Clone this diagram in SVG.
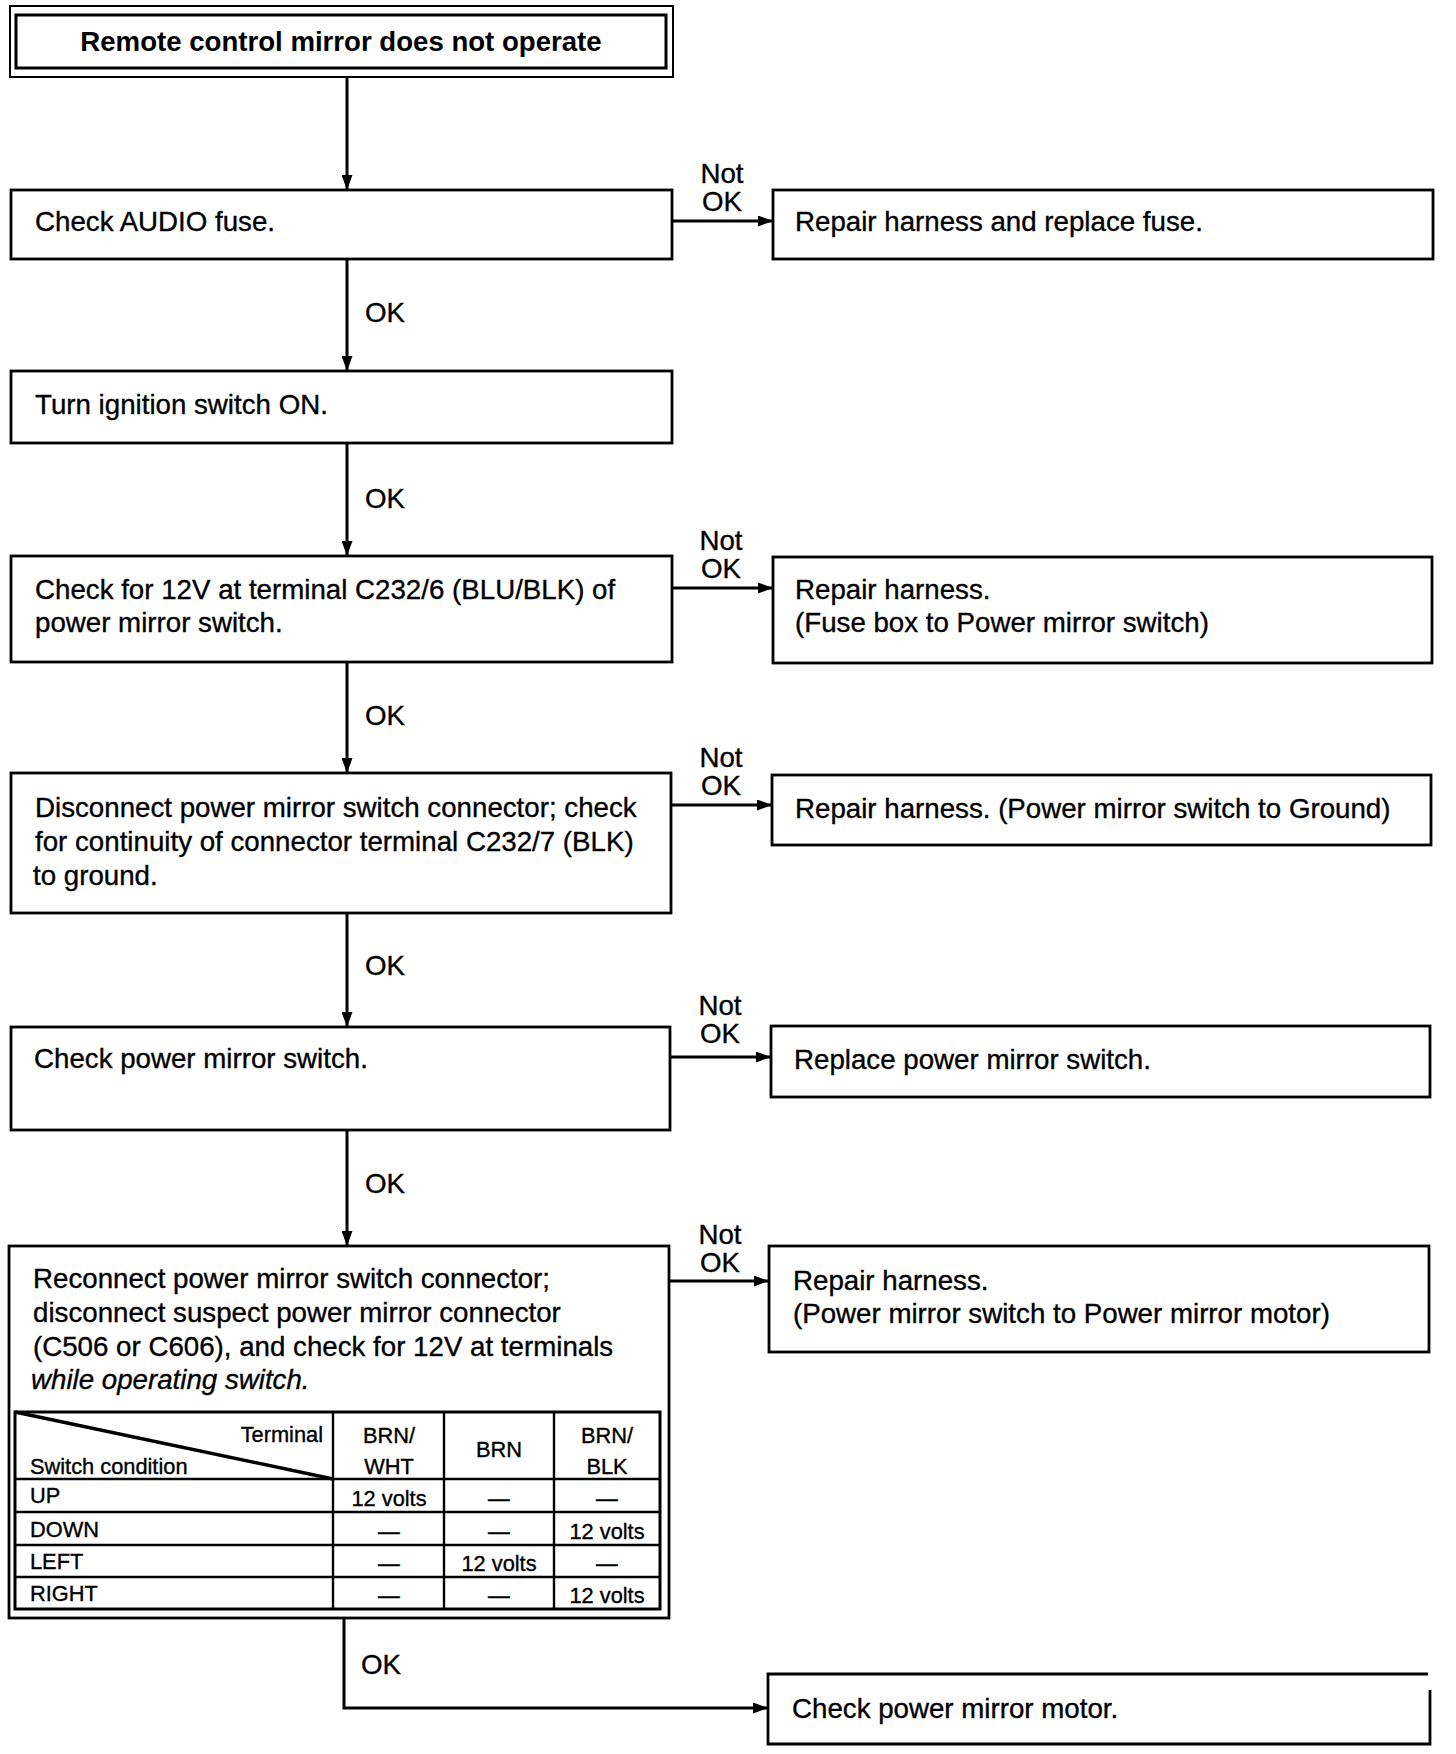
<svg xmlns="http://www.w3.org/2000/svg" width="1456" height="1754" viewBox="0 0 1456 1754">
<style>
.b{fill:#fff;stroke:#000;stroke-width:2.8}
.t{font-family:"Liberation Sans",Arial,sans-serif;font-size:27.7px;fill:#000;stroke:#000;stroke-width:0.35}
.tb{font-family:"Liberation Sans",Arial,sans-serif;font-size:27.6px;font-weight:bold;fill:#000}
.s{font-family:"Liberation Sans",Arial,sans-serif;font-size:21.8px;fill:#000;stroke:#000;stroke-width:0.35}
.c{stroke:#000;stroke-width:3;fill:none}
.g{stroke:#000;stroke-width:2.4;fill:none}
</style>
<defs>
<marker id="arr" markerUnits="userSpaceOnUse" markerWidth="15" markerHeight="11" refX="15" refY="5.5" orient="auto">
<path d="M0,0 L15,5.5 L0,11 z" fill="#000"/>
</marker>
</defs>
<rect width="1456" height="1754" fill="#fff"/>

<g id="connectors">
<line class="c" x1="347" y1="77" x2="347" y2="190" marker-end="url(#arr)"/>
<line class="c" x1="347" y1="259" x2="347" y2="371" marker-end="url(#arr)"/>
<line class="c" x1="347" y1="443" x2="347" y2="556" marker-end="url(#arr)"/>
<line class="c" x1="347" y1="662" x2="347" y2="773" marker-end="url(#arr)"/>
<line class="c" x1="347" y1="913" x2="347" y2="1027" marker-end="url(#arr)"/>
<line class="c" x1="347" y1="1130" x2="347" y2="1246" marker-end="url(#arr)"/>
<polyline class="c" points="344,1618 344,1708 768,1708" marker-end="url(#arr)"/>
<line class="c" x1="672" y1="221" x2="773" y2="221" marker-end="url(#arr)"/>
<line class="c" x1="672" y1="588" x2="773" y2="588" marker-end="url(#arr)"/>
<line class="c" x1="671" y1="805" x2="772" y2="805" marker-end="url(#arr)"/>
<line class="c" x1="670" y1="1057" x2="771" y2="1057" marker-end="url(#arr)"/>
<line class="c" x1="669" y1="1281" x2="769" y2="1281" marker-end="url(#arr)"/>
<text class="t" x="365" y="322">OK</text>
<text class="t" x="365" y="508">OK</text>
<text class="t" x="365" y="725">OK</text>
<text class="t" x="365" y="975">OK</text>
<text class="t" x="365" y="1193">OK</text>
<text class="t" x="361" y="1674">OK</text>
<g text-anchor="middle">
<text class="t" x="722" y="183">Not</text><text class="t" x="722" y="211">OK</text>
<text class="t" x="721" y="550">Not</text><text class="t" x="721" y="578">OK</text>
<text class="t" x="721" y="767">Not</text><text class="t" x="721" y="795">OK</text>
<text class="t" x="720" y="1015">Not</text><text class="t" x="720" y="1043">OK</text>
<text class="t" x="720" y="1244">Not</text><text class="t" x="720" y="1272">OK</text>
</g>
</g>

<g id="title">
<rect x="10" y="6" width="663" height="71" fill="#fff" stroke="#000" stroke-width="2"/>
<rect x="16" y="15" width="650" height="53" fill="none" stroke="#000" stroke-width="3"/>
<text class="tb" x="341" y="51" text-anchor="middle">Remote control mirror does not operate</text>
</g>

<g id="n1">
<rect class="b" x="11" y="190" width="661" height="69"/>
<text class="t" x="35" y="231">Check AUDIO fuse.</text>
</g>
<g id="r1">
<rect class="b" x="773" y="190" width="660" height="69"/>
<text class="t" x="795" y="231">Repair harness and replace fuse.</text>
</g>

<g id="n2">
<rect class="b" x="11" y="371" width="661" height="72"/>
<text class="t" x="35" y="414">Turn ignition switch ON.</text>
</g>

<g id="n3">
<rect class="b" x="11" y="556" width="661" height="106"/>
<text class="t" x="35" y="599">Check for 12V at terminal C232/6 (BLU/BLK) of</text>
<text class="t" x="35" y="632">power mirror switch.</text>
</g>
<g id="r3">
<rect class="b" x="773" y="557" width="659" height="106"/>
<text class="t" x="795" y="599">Repair harness.</text>
<text class="t" x="795" y="632">(Fuse box to Power mirror switch)</text>
</g>

<g id="n4">
<rect class="b" x="11" y="773" width="660" height="140"/>
<text class="t" x="35" y="817">Disconnect power mirror switch connector; check</text>
<text class="t" x="35" y="851">for continuity of connector terminal C232/7 (BLK)</text>
<text class="t" x="33" y="885">to ground.</text>
</g>
<g id="r4">
<rect class="b" x="772" y="775" width="659" height="70"/>
<text class="t" x="795" y="818">Repair harness. (Power mirror switch to Ground)</text>
</g>

<g id="n5">
<rect class="b" x="11" y="1027" width="659" height="103"/>
<text class="t" x="34" y="1068">Check power mirror switch.</text>
</g>
<g id="r5">
<rect class="b" x="771" y="1026" width="659" height="71"/>
<text class="t" x="794" y="1069">Replace power mirror switch.</text>
</g>

<g id="n6">
<rect class="b" x="9" y="1246" width="660" height="372"/>
<text class="t" x="33" y="1288">Reconnect power mirror switch connector;</text>
<text class="t" x="33" y="1322">disconnect suspect power mirror connector</text>
<text class="t" x="33" y="1356">(C506 or C606), and check for 12V at terminals</text>
<text class="t" x="31" y="1389" font-style="italic">while operating switch.</text>
<g id="table">
<rect x="15" y="1412" width="645" height="197" fill="none" stroke="#000" stroke-width="3"/>
<line class="g" x1="333" y1="1412" x2="333" y2="1609"/>
<line class="g" x1="444" y1="1412" x2="444" y2="1609"/>
<line class="g" x1="554" y1="1412" x2="554" y2="1609"/>
<line class="g" x1="15" y1="1479" x2="660" y2="1479"/>
<line class="g" x1="15" y1="1512" x2="660" y2="1512"/>
<line class="g" x1="15" y1="1545" x2="660" y2="1545"/>
<line class="g" x1="15" y1="1577" x2="660" y2="1577"/>
<line x1="15" y1="1412" x2="333" y2="1479" stroke="#000" stroke-width="3.4"/>
<text class="s" x="323" y="1442" text-anchor="end">Terminal</text>
<text class="s" x="30" y="1474">Switch condition</text>
<g text-anchor="middle">
<text class="s" x="389" y="1443">BRN/</text><text class="s" x="389" y="1474">WHT</text>
<text class="s" x="499" y="1457">BRN</text>
<text class="s" x="607" y="1443">BRN/</text><text class="s" x="607" y="1474">BLK</text>
<text class="s" x="389" y="1506">12 volts</text><text class="s" x="499" y="1506">—</text><text class="s" x="607" y="1506">—</text>
<text class="s" x="389" y="1539">—</text><text class="s" x="499" y="1539">—</text><text class="s" x="607" y="1539">12 volts</text>
<text class="s" x="389" y="1571">—</text><text class="s" x="499" y="1571">12 volts</text><text class="s" x="607" y="1571">—</text>
<text class="s" x="389" y="1603">—</text><text class="s" x="499" y="1603">—</text><text class="s" x="607" y="1603">12 volts</text>
</g>
<text class="s" x="30" y="1503">UP</text>
<text class="s" x="30" y="1537">DOWN</text>
<text class="s" x="30" y="1569">LEFT</text>
<text class="s" x="30" y="1601">RIGHT</text>
</g>
</g>
<g id="r6">
<rect class="b" x="769" y="1246" width="660" height="106"/>
<text class="t" x="793" y="1290">Repair harness.</text>
<text class="t" x="793" y="1323">(Power mirror switch to Power mirror motor)</text>
</g>

<g id="final">
<path d="M1428,1674 L768,1674 L768,1744 L1430,1744 L1430,1690" fill="#fff" stroke="#000" stroke-width="2.8"/>
<text class="t" x="792" y="1718">Check power mirror motor.</text>
</g>
</svg>
